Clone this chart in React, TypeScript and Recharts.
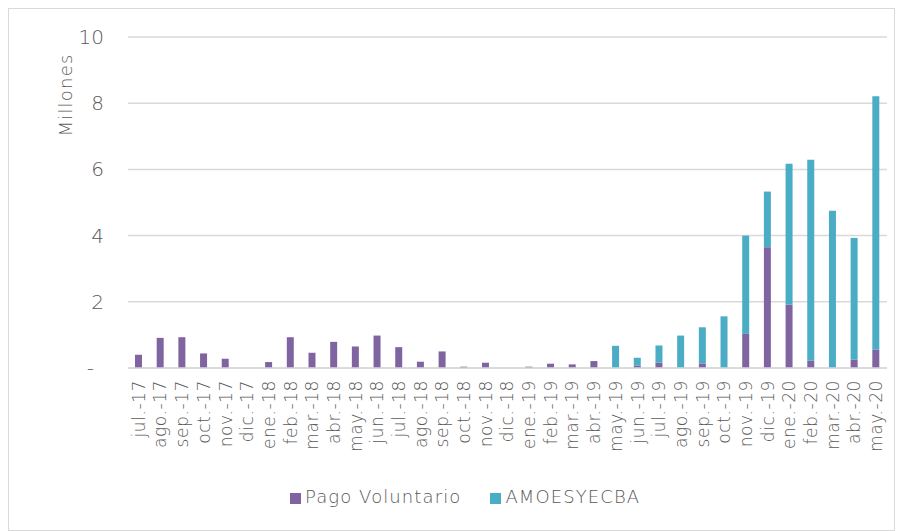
import React from 'react';
import { BarChart, Bar, XAxis, YAxis, CartesianGrid, Legend } from 'recharts';

const categories = ['jul.-17','ago.-17','sep.-17','oct.-17','nov.-17','dic.-17','ene.-18','feb.-18','mar.-18','abr.-18','may.-18','jun.-18','jul.-18','ago.-18','sep.-18','oct.-18','nov.-18','dic.-18','ene.-19','feb.-19','mar.-19','abr.-19','may.-19','jun.-19','jul.-19','ago.-19','sep.-19','oct.-19','nov.-19','dic.-19','ene.-20','feb.-20','mar.-20','abr.-20','may.-20'];
const pagoVoluntario = [0.40,0.91,0.93,0.44,0.28,0,0.18,0.93,0.46,0.79,0.65,0.98,0.63,0.19,0.50,0.04,0.16,0,0.04,0.13,0.11,0.21,0,0.07,0.16,0,0.14,0,1.03,3.65,1.91,0.22,0,0.25,0.56];
const amoesyecba = [0,0,0,0,0,0,0,0,0,0,0,0,0,0,0,0,0,0,0,0,0,0,0.67,0.24,0.52,0.98,1.09,1.56,2.97,1.68,4.26,6.07,4.75,3.68,7.65];
const yTicks = [0, 2, 4, 6, 8, 10];
const seriesOrder = ['Pago Voluntario', 'AMOESYECBA'];

const data = categories.map((c, i) => ({ name: c, pago: pagoVoluntario[i], amoe: amoesyecba[i] }));

const FONT = '"DejaVu Sans", sans-serif';
const GREY = '#595959';

const XTick = (props: any) => {
  const { x, y, payload } = props;
  return (
    <text x={x} y={y} transform={`rotate(-90, ${x}, ${y})`} textAnchor="end" dy="0.35em"
      fontFamily={FONT} fontWeight={200} fontSize={17} letterSpacing={0.6} fill={GREY}>
      {payload.value}
    </text>
  );
};

const YTick = (props: any) => {
  const { x, y, payload } = props;
  const isZero = payload.value === 0;
  return (
    <text x={isZero ? x - 10 : x} y={y} textAnchor="end" dy="0.35em"
      fontFamily={FONT} fontWeight={200} fontSize={20} fill={GREY}>
      {isZero ? '-' : String(payload.value)}
    </text>
  );
};

export default function App() {
  return (
    <div style={{ width: 885, height: 521, border: '1px solid #d9d9d9', background: '#fff' }}>
      <BarChart width={885} height={521} data={data} barSize={7}
        margin={{ top: 28, right: 7, left: 0, bottom: 23 }}>
        <CartesianGrid vertical={false} stroke="#d9d9d9" strokeWidth={1.5} />
        <XAxis dataKey="name" interval={0} tick={<XTick />} tickLine={false}
          axisLine={{ stroke: '#d9d9d9', strokeWidth: 1.5 }} height={118} tickMargin={6} />
        <YAxis domain={[0, 10]} ticks={yTicks} width={119} tickLine={false} axisLine={false}
          tickSize={0} tickMargin={24} tick={<YTick />}
          label={{
            content: () => (
              <text x={57} y={86} transform="rotate(-90, 57, 86)" textAnchor="middle" dy="0.35em"
                fontFamily={FONT} fontWeight={200} fontSize={18} letterSpacing={1.2} fill={GREY}>Millones</text>
            ),
          }} />
        <Legend verticalAlign="bottom" align="left" iconType="square" iconSize={11}
          itemSorter={(item: any) => seriesOrder.indexOf(item.value)}
          wrapperStyle={{ left: 281, width: 'auto', fontFamily: FONT, fontWeight: 200, fontSize: 18, letterSpacing: 1.1, color: GREY }}
          formatter={(v: string) => <span style={{ color: GREY, marginRight: 19 }}>{v}</span>} />
        <Bar dataKey="pago" name="Pago Voluntario" stackId="a" fill="#8064A2" isAnimationActive={false} />
        <Bar dataKey="amoe" name="AMOESYECBA" stackId="a" fill="#4BACC6" isAnimationActive={false} />
      </BarChart>
    </div>
  );
}
